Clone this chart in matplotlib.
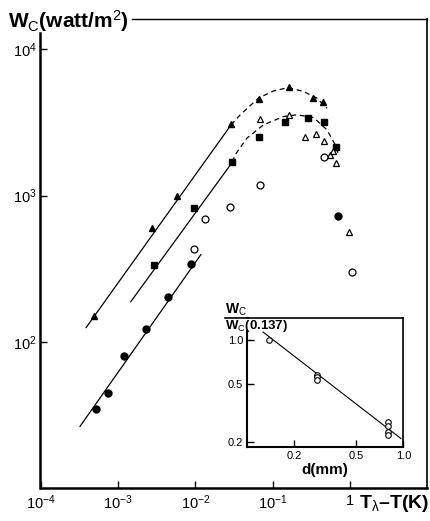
import matplotlib
matplotlib.use('Agg')
import matplotlib.pyplot as plt
from matplotlib.ticker import FixedLocator, NullLocator, FixedFormatter

# ---------------- data ----------------
tri_f_x = [4.86e-4, 2.78e-3, 5.75e-3, 0.0289, 0.0665, 0.161, 0.332, 0.438]
tri_f_y = [150, 596, 986, 3076, 4603, 5508, 4653, 4386]

sq_f_x = [2.92e-3, 9.6e-3, 0.0301, 0.0665, 0.144, 0.283, 0.460, 0.644]
sq_f_y = [337, 817, 1694, 2496, 3177, 3413, 3177, 2153]

tri_o_x = [0.0692, 0.163, 0.261, 0.360, 0.456, 0.550, 0.589, 0.652, 0.96]
tri_o_y = [3325, 3525, 2518, 2643, 2355, 1898, 2024, 1656, 564]

circ_o_x = [9.6e-3, 0.0133, 0.0283, 0.0692, 0.451, 1.05]
circ_o_y = [433, 695, 834, 1185, 1834, 302]

circ_f_x = [5.16e-4, 7.52e-4, 1.21e-3, 2.29e-3, 4.38e-3, 8.73e-3, 0.684]
circ_f_y = [34.5, 44.4, 80.5, 123, 202, 342, 719]

# fitted straight lines (solid)
tri_line_x = [3.88e-4, 0.0289]
tri_line_y = [125, 3043]
sq_line_x = [1.46e-3, 0.0301]
sq_line_y = [187.5, 1694]
circ_line_x = [3.24e-4, 0.01175]
circ_line_y = [26.4, 394]

# dashed guide curves
tri_dash_x = [0.0289, 0.0379, 0.0652, 0.102, 0.159, 0.248, 0.370, 0.499]
tri_dash_y = [3043, 3565, 4636, 5190, 5470, 5145, 4636, 3953]
sq_dash_x = [0.0301, 0.0326, 0.0461, 0.0757, 0.137, 0.204, 0.335, 0.499, 0.638, 0.705]
sq_dash_y = [1694, 1898, 2465, 3043, 3467, 3565, 3413, 2813, 2223, 1898]

x_ticks = [1e-4, 1e-3, 1e-2, 1e-1, 1]
x_ticklabels = ['$10^{-4}$', '$10^{-3}$', '$10^{-2}$', '$10^{-1}$', '1']
y_ticks = [1e2, 1e3, 1e4]
y_ticklabels = ['$10^{2}$', '$10^{3}$', '$10^{4}$']

# inset data
ins_x = [0.137, 0.28, 0.28, 0.28, 0.80, 0.80, 0.80, 0.80]
ins_y = [1.0, 0.578, 0.556, 0.535, 0.272, 0.258, 0.234, 0.222]
ins_line_x = [0.126, 0.967]
ins_line_y = [1.14, 0.21]
ins_xticks = [0.2, 0.5, 1.0]
ins_xticklabels = ['0.2', '0.5', '1.0']
ins_yticks = [0.2, 0.5, 1.0]
ins_yticklabels = ['0.2', '0.5', '1.0']

# ---------------- figure ----------------
plt.rcParams['font.family'] = ['Liberation Sans', 'DejaVu Sans']
plt.rcParams['mathtext.fontset'] = 'custom'
plt.rcParams['mathtext.rm'] = 'Liberation Sans'
plt.rcParams['mathtext.it'] = 'Liberation Sans'

fig = plt.figure(figsize=(4.31, 5.21), dpi=100)
W, H = 431, 521
ax = fig.add_axes([40.5 / W, 1 - 488 / H, (427 - 40.5) / W, (488 - 19) / H])
ax.set_xscale('log')
ax.set_yscale('log')
ax.set_xlim(1e-4, 10 ** 0.99)
ax.set_ylim(10, 10 ** 4.207)

ms = 4.5
ax.plot(tri_line_x, tri_line_y, '-', color='black', lw=0.9)
ax.plot(sq_line_x, sq_line_y, '-', color='black', lw=0.9)
ax.plot(circ_line_x, circ_line_y, '-', color='black', lw=0.9)
ax.plot(tri_dash_x, tri_dash_y, '--', color='black', lw=0.9, dashes=(4, 3))
ax.plot(sq_dash_x, sq_dash_y, '--', color='black', lw=0.9, dashes=(4, 3))

ax.plot(tri_f_x, tri_f_y, '^', color='black', ms=ms, ls='none')
ax.plot(sq_f_x, sq_f_y, 's', color='black', ms=ms, ls='none')
ax.plot(tri_o_x, tri_o_y, '^', mfc='white', mec='black', mew=0.9, ms=ms, ls='none')
ax.plot(circ_o_x, circ_o_y, 'o', mfc='white', mec='black', mew=0.9, ms=ms + 0.5, ls='none')
ax.plot(circ_f_x, circ_f_y, 'o', color='black', ms=ms + 0.5, ls='none')

ax.xaxis.set_major_locator(FixedLocator(x_ticks))
ax.xaxis.set_major_formatter(FixedFormatter(x_ticklabels))
ax.xaxis.set_minor_locator(NullLocator())
ax.yaxis.set_major_locator(FixedLocator(y_ticks))
ax.yaxis.set_major_formatter(FixedFormatter(y_ticklabels))
ax.yaxis.set_minor_locator(NullLocator())
ax.tick_params(axis='both', direction='in', length=5, width=1.0, labelsize=10.5)
ax.tick_params(axis='x', pad=4)
ax.tick_params(axis='y', pad=3)

ax.spines['left'].set_linewidth(1.8)
ax.spines['bottom'].set_linewidth(1.8)
ax.spines['right'].set_linewidth(1.2)
ax.spines['top'].set_linewidth(1.0)
ax.spines['left'].set_bounds(10, 12900)
ax.spines['top'].set_bounds(10 ** (-4 + (132 - 40.5) / 77.4), 10 ** 0.99)

fig.text(8 / W, 1 - 21 / H, 'W$_{\\mathrm{C}}$(watt/m$^{2}$)', fontsize=15, fontweight='bold',
         ha='left', va='center')
fig.text(429 / W, 1 - 504 / H, 'T$_{\\lambda}$\u2013T(K)', fontsize=14, fontweight='bold',
         ha='right', va='center')

# ---------------- inset ----------------
ia = fig.add_axes([247.3 / W, 1 - 447.3 / H, (403.3 - 247.3) / W, (447.3 - 317.7) / H])
ia.set_xscale('log')
ia.set_yscale('log')
ia.set_xlim(0.1, 1.0)
ia.set_ylim(0.183, 1.43)
ia.plot(ins_line_x, ins_line_y, '-', color='black', lw=0.8)
ia.plot(ins_x, ins_y, 'o', mfc='white', mec='black', mew=0.8, ms=4, ls='none')
ia.xaxis.set_major_locator(FixedLocator(ins_xticks))
ia.xaxis.set_major_formatter(FixedFormatter(ins_xticklabels))
ia.xaxis.set_minor_locator(NullLocator())
ia.yaxis.set_major_locator(FixedLocator(ins_yticks))
ia.yaxis.set_major_formatter(FixedFormatter(ins_yticklabels))
ia.yaxis.set_minor_locator(NullLocator())
ia.tick_params(axis='both', direction='in', length=5, width=1.0, labelsize=8, pad=3)
for s in ia.spines.values():
    s.set_linewidth(1.2)
ia.spines['left'].set_linewidth(1.5)
ia.spines['bottom'].set_linewidth(1.5)
ia.spines['left'].set_bounds(0.183, 1.17)
ia.set_xlabel('d(mm)', fontsize=11, fontweight='bold', labelpad=1)

# fraction label of inset
fig.text(225 / W, 1 - 310 / H, 'W$_{\\mathrm{C}}$', fontsize=10, fontweight='bold', ha='left', va='center')
fig.text(225 / W, 1 - 326 / H, 'W$_{\\mathrm{C}}$(0.137)', fontsize=9.5, fontweight='bold', ha='left', va='center')
fig.add_artist(plt.Line2D([225 / W, 248 / W], [1 - 317.7 / H, 1 - 317.7 / H], color='black', lw=1.2))

fig.savefig('out.png', dpi=100)
